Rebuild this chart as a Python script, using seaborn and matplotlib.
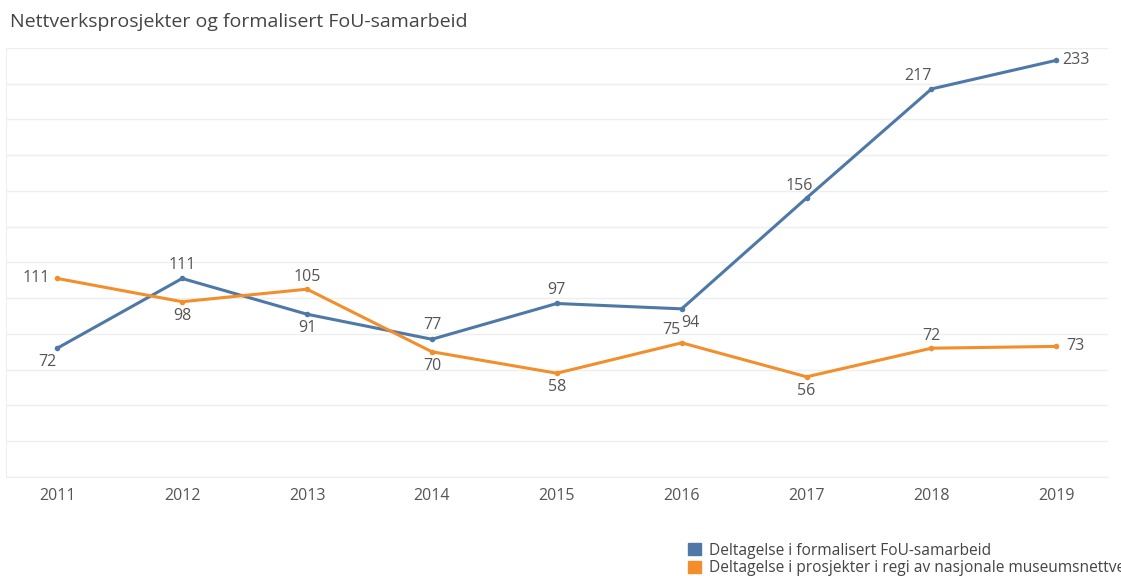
import pandas as pd
import matplotlib
matplotlib.use("Agg")
import matplotlib.pyplot as plt
from matplotlib.patches import Patch
import seaborn as sns

years = [2011, 2012, 2013, 2014, 2015, 2016, 2017, 2018, 2019]
fou = [72, 111, 91, 77, 97, 94, 156, 217, 233]
nettverk = [111, 98, 105, 70, 58, 75, 56, 72, 73]
series_names = ["Deltagelse i formalisert FoU-samarbeid",
                "Deltagelse i prosjekter i regi av nasjonale museumsnettverk"]
colors = ["#4e79a7", "#f28e2b"]

# label placement (offset in points) for each point
fou_offsets = [(-7, -10), (0, 10), (0, -10), (0, 10), (0, 10), (6, -10), (-5, 9), (-10, 9.5), (14, 0)]
net_offsets = [(-15, 0), (0, -10), (0, 9), (0, -10), (0, -10), (-7.5, 9), (0, -10), (0, 9), (14, 0)]

df = pd.DataFrame({
    "year": years * 2,
    "value": fou + nettverk,
    "serie": [series_names[0]] * len(years) + [series_names[1]] * len(years),
})

sns.set_style("white")
plt.rcParams["font.family"] = ["Open Sans", "DejaVu Sans"]

fig = plt.figure(figsize=(11.21, 5.76), dpi=100)
ax = fig.add_axes([0.0054, 0.172, 0.9826, 0.745])

sns.lineplot(data=df, x="year", y="value", hue="serie", palette=colors,
             marker="o", markersize=4, markeredgewidth=0, linewidth=2.2,
             legend=False, ax=ax)

for vals, offs in [(fou, fou_offsets), (nettverk, net_offsets)]:
    for x, y, (dx, dy) in zip(years, vals, offs):
        ax.annotate(str(y), (x, y), xytext=(dx, dy), textcoords="offset points",
                    ha="center", va="center", fontsize=11.5, color="#555555")

ax.set_xlim(2010.59, 2019.41)
ax.set_ylim(0, 240)
ax.set_yticks(range(0, 241, 20))
ax.set_yticklabels([])
ax.tick_params(axis="y", length=0)
ax.set_xticks(years)
ax.set_xticklabels([str(y) for y in years])
ax.tick_params(axis="x", length=0, labelsize=11.5, labelcolor="#555555", pad=8)
ax.grid(axis="y", color="#eeeeee", linewidth=1)
ax.set_xlabel("")
ax.set_ylabel("")
for side in ["top", "right"]:
    ax.spines[side].set_visible(False)
ax.spines["left"].set_color("#eeeeee")
ax.spines["bottom"].set_color("#eeeeee")

fig.text(0.009, 0.962, "Nettverksprosjekter og formalisert FoU-samarbeid",
         fontsize=14, color="#444444", va="center", ha="left")

handles = [Patch(color=c) for c in colors]
fig.legend(handles, series_names, loc="upper left", bbox_to_anchor=(0.614, 0.058),
           frameon=False, fontsize=11.2, handlelength=0.8, handleheight=0.8,
           handletextpad=0.5, labelspacing=0.1, borderaxespad=0, borderpad=0,
           labelcolor="#444444")

fig.savefig("out.png", dpi=100)
